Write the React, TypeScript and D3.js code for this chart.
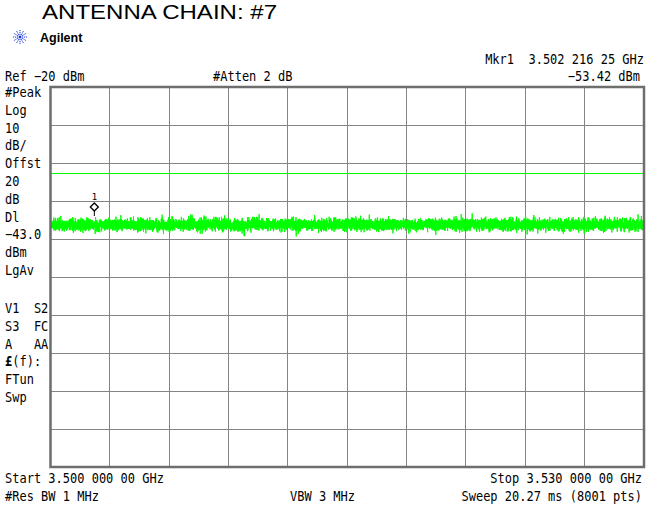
import React, { useMemo } from "react";
import * as d3 from "d3";

// ---- Data ----
const TITLE = "ANTENNA CHAIN: #7";
const START_GHZ = 3.5;
const STOP_GHZ = 3.53;
const REF_DBM = -20;
const DB_PER_DIV = 10;
const NUM_DIVS = [0, 1, 2, 3, 4, 5, 6, 7, 8, 9, 10];
const DISPLAY_LINE_DBM = -43;
const MARKER_GHZ = 3.50221625;
const MARKER_DBM = -53.42;
const NUM_POINTS = 8001;
// noise floor statistics (the trace is pure noise)
const NOISE_FLOOR_DBM = -56.2;
const NOISE_SIGMA_DB = 0.8;
const NOISE_SEED = 0.4242;

const LEFT_LABELS = ["#Peak", "Log", "10", "dB/", "Offst", "20", "dB", "Dl", "\u221243.0", "dBm", "LgAv"];
const LEFT_LABELS_2 = ["V1  S2", "S3  FC", "A   AA", "(f):", "FTun", "Swp"];
const TOP_TEXTS = { ref: "Ref \u221220 dBm", atten: "#Atten 2 dB", mkr: "Mkr1  3.502 216 25 GHz", mkrVal: "\u221253.42 dBm" };
const BOTTOM_TEXTS = {
  start: "Start 3.500 000 00 GHz",
  stop: "Stop 3.530 000 00 GHz",
  rbw: "#Res BW 1 MHz",
  vbw: "VBW 3 MHz",
  sweep: "Sweep 20.27 ms (8001 pts)",
};

const MONO = "'DejaVu Sans Mono', 'Liberation Mono', monospace";

function T({ x, y, anchor, children }: { x: number; y: number; anchor?: string; children: React.ReactNode }) {
  return (
    <text
      transform={`translate(${x},${y}) scale(1,1.12)`}
      textAnchor={anchor || "start"}
      style={{ whiteSpace: "pre" }}
    >
      {children}
    </text>
  );
}

export default function App() {
  const W = 661, H = 517;
  const x = d3.scaleLinear().domain([START_GHZ, STOP_GHZ]).range([50.5, 644]);
  const y = d3.scaleLinear().domain([REF_DBM - DB_PER_DIV * 10, REF_DBM]).range([467, 87]);

  const trace = useMemo(() => {
    const rnd = d3.randomNormal.source(d3.randomLcg(NOISE_SEED))(NOISE_FLOOR_DBM, NOISE_SIGMA_DB);
    const pts: [number, number][] = [];
    for (let i = 0; i < NUM_POINTS; i++) {
      const f = START_GHZ + ((STOP_GHZ - START_GHZ) * i) / (NUM_POINTS - 1);
      pts.push([f, rnd()]);
    }
    return pts;
  }, []);

  const line = d3.line<[number, number]>().x((d) => x(d[0])).y((d) => y(d[1]));
  const xSpan = x.range();
  const ySpan = y.range();
  const mx = x(MARKER_GHZ);
  const my = y(MARKER_DBM);

  const leftY0 = 97;
  const leftStep = 17.8;
  const left2Y0 = 313;
  const left2Step = 17.8;

  return (
    <svg width={W} height={H} style={{ position: "absolute", left: 0, top: 0, background: "#fff" }}>
      <rect x={0} y={0} width={W} height={H} fill="#fff" />
      {/* title */}
      <text x={42} y={19} fontFamily="'Liberation Sans', Arial, sans-serif" fontSize={21} textLength={235} lengthAdjust="spacingAndGlyphs" fill="#000">
        {TITLE}
      </text>
      {/* Agilent logo */}
      <g transform="translate(20,37)" stroke="#1030e0" strokeWidth={1} strokeDasharray="1.2 0.8">
        {d3.range(12).map((i) => {
          const a = (i * Math.PI) / 6;
          return <line key={i} x1={0} y1={0} x2={Math.cos(a) * 7} y2={Math.sin(a) * 7} />;
        })}
      </g>
      <text x={40} y={42} fontFamily="'Liberation Sans', Arial, sans-serif" fontWeight="bold" fontSize={12.5} fill="#000">
        Agilent
      </text>

      {/* annotations */}
      <g fontFamily={MONO} fontSize={12} fill="#000">
        <T x={644} y={64} anchor="end">{TOP_TEXTS.mkr}</T>
        <T x={5} y={81}>{TOP_TEXTS.ref}</T>
        <T x={213} y={81}>{TOP_TEXTS.atten}</T>
        <T x={640} y={81} anchor="end">{TOP_TEXTS.mkrVal}</T>
        {LEFT_LABELS.map((t, i) => (
          <T key={t} x={5} y={leftY0 + i * leftStep}>{t}</T>
        ))}
        {LEFT_LABELS_2.map((t, i) => (
          <T key={t} x={5} y={left2Y0 + i * left2Step}>
            {i === 3 ? <tspan fontWeight="bold">{"\u00a3"}</tspan> : null}
            {t}
          </T>
        ))}
        <T x={5} y={483}>{BOTTOM_TEXTS.start}</T>
        <T x={642} y={483} anchor="end">{BOTTOM_TEXTS.stop}</T>
        <T x={5} y={501}>{BOTTOM_TEXTS.rbw}</T>
        <T x={290} y={501}>{BOTTOM_TEXTS.vbw}</T>
        <T x={642} y={501} anchor="end">{BOTTOM_TEXTS.sweep}</T>
      </g>

      {/* grid */}
      <g stroke="#858585" strokeWidth={1} shapeRendering="crispEdges">
        {NUM_DIVS.map((i) => {
          const gx = xSpan[0] + ((xSpan[1] - xSpan[0]) * i) / 10;
          const gy = ySpan[1] + ((ySpan[0] - ySpan[1]) * i) / 10;
          return (
            <g key={i}>
              <line x1={gx} x2={gx} y1={ySpan[1]} y2={ySpan[0]} />
              <line x1={xSpan[0]} x2={xSpan[1]} y1={gy} y2={gy} />
            </g>
          );
        })}
      </g>
      {/* display line */}
      <line x1={xSpan[0]} x2={xSpan[1]} y1={y(DISPLAY_LINE_DBM) - 1} y2={y(DISPLAY_LINE_DBM) - 1} stroke="#00ff00" strokeWidth={1} shapeRendering="crispEdges" />
      {/* trace */}
      <path d={line(trace) || ""} fill="none" stroke="#00ff00" strokeWidth={1} />
      {/* border */}
      <rect x={xSpan[0]} y={ySpan[1]} width={xSpan[1] - xSpan[0]} height={ySpan[0] - ySpan[1]} fill="none" stroke="#6e6e6e" strokeWidth={2.5} />

      {/* marker */}
      <line x1={mx} x2={mx} y1={my - 3} y2={my + 2} stroke="#000" strokeWidth={1} />
      <path d={`M${mx},${my - 11} L${mx + 4},${my - 7} L${mx},${my - 3} L${mx - 4},${my - 7} Z`} fill="#fff" stroke="#000" strokeWidth={1.3} />
      <text x={mx} y={my - 14} textAnchor="middle" fontFamily={MONO} fontSize={9} fill="#000">1</text>
    </svg>
  );
}
